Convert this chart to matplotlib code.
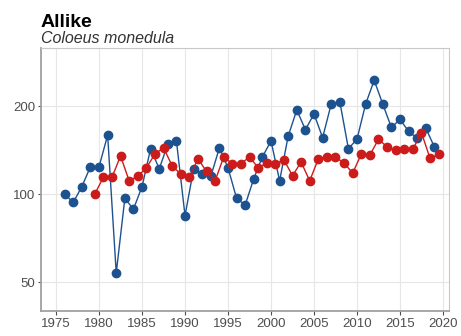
import matplotlib
matplotlib.use("Agg")
import matplotlib.pyplot as plt
from matplotlib.ticker import FixedLocator, FixedFormatter, NullLocator

plt.rcParams['font.family'] = ['Liberation Sans', 'DejaVu Sans']

title = "Allike"
subtitle = "Coloeus monedula"

blue_years = list(range(1976, 2020))
blue_values = [100, 93.6, 106, 124, 124, 159, 53.7, 96.6, 88.8, 106,
               143, 122, 148, 152, 84.3, 122, 117, 115, 144, 123,
               96.6, 91.8, 113, 134, 152, 111, 158, 194, 166, 188,
               156, 203, 207, 143, 154, 203, 245, 203, 169, 180,
               164, 155, 168, 145]

red_years = [y + 0.5 for y in range(1979, 2020)]
red_values = [100, 114, 114, 135, 111, 115, 123, 137, 144, 125,
              117, 114, 132, 119.5, 111, 134, 127, 127, 134, 123,
              127.6, 126.6, 131, 115.5, 128.7, 111, 131.8, 133.8, 133.8, 127.6,
              118, 137, 136, 154, 145, 141, 143, 142.5, 162, 132.4,
              136.6]

x_ticks = [1975, 1980, 1985, 1990, 1995, 2000, 2005, 2010, 2015, 2020]
y_ticks = [50, 100, 200]
y_labels = ["50", "100", "200"]

blue = "#1d5290"
red = "#cc1b1b"

fig = plt.figure(figsize=(4.61, 3.36), dpi=100)
ax = fig.add_axes([41/461, 1 - 311/336, (449 - 41)/461, (311 - 48)/336])

ax.plot(blue_years, blue_values, color=blue, lw=1.0, marker='o', ms=6,
        mec=blue, mfc=blue, zorder=3)
ax.plot(red_years, red_values, color=red, lw=1.0, marker='o', ms=6,
        mec=red, mfc=red, zorder=4)

ax.set_yscale('log')
ax.set_ylim(39.8, 316)
ax.set_xlim(1973.25, 2020.7)
ax.yaxis.set_major_locator(FixedLocator(y_ticks))
ax.yaxis.set_major_formatter(FixedFormatter(y_labels))
ax.yaxis.set_minor_locator(NullLocator())
ax.set_xticks(x_ticks)

ax.grid(True, color="#e6e6e6", lw=0.8)
ax.set_axisbelow(True)

for side in ['top', 'right']:
    ax.spines[side].set_color("#c8c8c8")
    ax.spines[side].set_linewidth(0.8)
for side in ['left', 'bottom']:
    ax.spines[side].set_color("#a0a0a0")
    ax.spines[side].set_linewidth(1.3)

ax.tick_params(axis='both', labelsize=9.5, colors="#4d4d4d", length=3,
               width=0.8, pad=2)
ax.tick_params(axis='y', length=2)

fig.text(41/461, 1 - 27/336, title, fontsize=14, fontweight='bold',
         va='baseline', ha='left', color='black')
fig.text(41/461, 1 - 43/336, subtitle, fontsize=11.5, style='italic',
         va='baseline', ha='left', color='#333333')

fig.savefig("out.png", dpi=100)
